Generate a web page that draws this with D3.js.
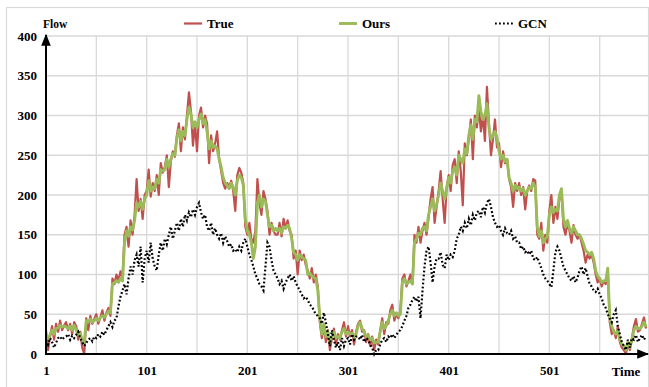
<!DOCTYPE html>
<html>
<head>
<meta charset="utf-8">
<script src="https://cdn.jsdelivr.net/npm/d3@7"></script>
<style>
  body { margin: 0; background: #fff; }
  svg text { font-family: "Liberation Serif", "Times New Roman", serif; font-weight: bold; fill: #000; }
</style>
</head>
<body>
<svg id="chart" width="649" height="387"></svg>
<script>
// Traffic flow, one sample every two time steps
const step = 2;

const trueFlow = [
  30,5,22,35,18, 38,28,42,30,36, 40,30,38,25,40, 35,18,28,8,0,
  45,30,48,38,44, 50,38,46,55,42, 52,58,48,95,88, 100,92,104,96,150,
  160,135,168,150,175, 220,180,195,170,200, 205,232,198,215,205, 225,200,240,228,235,
  250,210,242,255,248, 275,290,255,285,270, 300,329,305,262,290, 255,300,310,285,300,
  290,240,275,255,265, 280,245,230,215,208, 215,210,218,205,180, 225,234,228,215,160,
  150,165,145,140,155, 220,190,175,205,195, 180,150,165,155,150, 150,165,148,170,158,
  168,155,150,120,130, 100,130,118,125,112, 105,95,108,90,100, 85,40,20,35,15,
  30,5,20,32,12, 25,18,30,40,22, 35,22,30,12,28, 38,42,28,30,15,
  25,10,22,5,18, 12,30,45,25,40, 38,55,62,42,50, 45,55,95,100,85,
  92,100,88,150,140, 160,140,155,165,150, 172,195,210,165,185, 205,230,195,165,210,
  225,205,238,245,215, 255,230,187,265,250, 270,295,245,300,285, 310,280,300,268,336,
  290,250,270,295,260, 265,235,255,240,245, 220,210,185,215,205, 215,200,210,182,205,
  212,205,220,218,150, 145,165,130,150,140, 180,200,165,185,170, 195,205,160,150,165,
  155,140,162,150,145, 150,140,130,115,125, 120,125,115,100,90, 95,85,92,88,105,
  40,25,30,20,35, 15,8,5,0,12, 5,20,35,44,28, 30,38,46,32
];

const oursFlow = [
  22,18,24,30,25, 32,33,36,34,35, 34,32,35,30,36, 30,24,26,18,14,
  42,40,44,40,42, 45,42,46,48,46, 50,54,52,88,90, 92,90,95,92,140,
  155,148,160,156,168, 190,185,192,182,195, 200,218,205,210,208, 220,215,232,230,232,
  245,235,245,252,250, 272,282,268,280,275, 295,310,302,285,292, 285,295,302,290,295,
  280,258,268,260,262, 258,245,235,222,215, 212,208,215,210,200, 218,225,222,212,170,
  155,150,140,120,135, 190,200,185,195,192, 175,160,162,155,158, 155,158,152,160,158,
  162,158,145,128,125, 118,125,122,120,118, 100,102,98,96,95, 80,45,25,38,22,
  28,15,22,28,20, 22,20,28,32,25, 28,25,26,20,25, 35,40,32,28,22,
  24,18,20,14,15, 15,28,40,32,36, 42,50,55,48,52, 48,50,90,95,88,
  90,92,88,140,145, 152,150,158,160,155, 175,185,195,180,188, 200,215,205,195,208,
  222,215,230,235,225, 250,245,240,258,252, 275,288,270,295,292, 325,305,295,300,315,
  285,270,275,280,272, 255,245,250,242,245, 222,215,205,212,208, 210,205,208,200,205,
  210,208,215,210,160, 148,155,140,145,148, 175,185,178,182,180, 200,208,170,160,168,
  158,152,160,155,150, 150,145,138,130,128, 125,128,120,105,98, 95,90,92,92,108,
  45,35,28,25,30, 18,12,10,5,15, 8,18,30,35,32, 32,35,40,34
];

const gcnFlow = [
  18,12,20,15,8, 14,20,22,18,21, 22,25,18,23,20, 24,28,20,15,10,
  14,18,20,16,22, 20,25,22,28,24, 30,35,40,34,42, 45,60,72,80,88,
  75,95,110,100,118, 125,110,135,90,120, 130,115,140,120,110, 105,125,140,130,145,
  138,150,160,145,155, 165,155,170,160,175, 168,178,172,182,175, 185,190,178,170,175,
  160,155,165,150,158, 150,145,152,140,148, 142,135,138,130,132, 128,135,130,140,145,
  135,125,118,110,100, 95,88,85,80,110, 140,135,118,105,100, 95,88,92,82,90,
  95,100,92,98,90, 85,80,75,70,72, 68,62,60,55,50, 48,45,38,52,40,
  25,10,30,18,8, 15,5,20,10,18, 20,12,25,18,22, 22,18,24,15,20,
  18,12,8,0,5, 5,12,18,20,15, 22,20,25,20,24, 28,30,35,42,48,
  58,62,68,72,66, 72,45,80,110,130, 135,115,90,110,120, 120,128,112,108,125,
  118,125,122,130,145, 150,160,155,165,158, 170,162,175,168,178, 180,172,185,178,190,
  195,185,172,165,160, 162,155,150,158,152, 150,155,145,148,140, 140,132,135,128,130,
  125,130,120,118,122, 115,108,100,95,92, 88,84,105,128,135, 130,120,110,105,100,
  95,92,98,90,96, 105,110,100,108,98, 88,85,80,78,82, 75,70,62,58,50,
  45,40,50,55,35, 25,15,10,5,18, 8,20,18,24,15, 20,24,18,22
];

const yTicks = [0, 50, 100, 150, 200, 250, 300, 350, 400];
const xTicks = [1, 101, 201, 301, 401, 501];
const xGrid = [1, 51, 101, 151, 201, 251, 301, 351, 401, 451, 501, 551];

const seriesNames = ["True", "Ours", "GCN"];
const seriesColors = ["#c0504d", "#9bbb59", "#000000"];

const timeIndex = trueFlow.map((_, k) => 1 + step * k);

const svg = d3.select("#chart");
const plotL = 46, plotR = 646, plotT = 36, plotB = 354;

const x = d3.scaleLinear().domain([1, 597]).range([plotL, plotR]);
const y = d3.scaleLinear().domain([0, 400]).range([plotB, plotT]);

// outer frame
svg.append("rect")
  .attr("x", 6.5).attr("y", 7.5).attr("width", 642).attr("height", 390)
  .attr("fill", "none").attr("stroke", "#d9d9d9").attr("stroke-width", 1.2);

// grid
const grid = svg.append("g").attr("stroke", "#d9d9d9").attr("stroke-width", 1.3);
grid.selectAll("line.h").data(yTicks).join("line").attr("class", "h")
  .attr("x1", plotL).attr("x2", 648).attr("y1", d => y(d)).attr("y2", d => y(d));
grid.selectAll("line.v").data(xGrid).join("line").attr("class", "v")
  .attr("x1", d => x(d)).attr("x2", d => x(d)).attr("y1", plotT).attr("y2", plotB);

// series
const line = d3.line().x((d, k) => x(timeIndex[k])).y(d => y(d));

svg.append("path").datum(trueFlow).attr("d", line)
  .attr("fill", "none").attr("stroke", seriesColors[0]).attr("stroke-width", 2.2)
  .attr("stroke-linejoin", "round");
svg.append("path").datum(oursFlow).attr("d", line)
  .attr("fill", "none").attr("stroke", seriesColors[1]).attr("stroke-width", 2.9)
  .attr("stroke-linejoin", "round");
svg.append("path").datum(gcnFlow).attr("d", line)
  .attr("fill", "none").attr("stroke", seriesColors[2]).attr("stroke-width", 2.2)
  .attr("stroke-dasharray", "1.8,2.2");

// arrowheads
const defs = svg.append("defs");
defs.append("marker").attr("id", "arrow")
  .attr("viewBox", "0 0 10 10").attr("refX", 9).attr("refY", 5)
  .attr("markerWidth", 6).attr("markerHeight", 6).attr("orient", "auto")
  .append("path").attr("d", "M0,1 L10,5 L0,9 Z").attr("fill", "#000");

// axes
const yAxis = svg.append("g").attr("transform", `translate(${plotL},0)`)
  .call(d3.axisLeft(y).tickValues(yTicks).tickSize(0).tickPadding(9));
yAxis.select(".domain").remove();
yAxis.selectAll("text").style("font-size", "13px").style("font-family", null);

const xAxis = svg.append("g").attr("transform", `translate(0,${plotB})`)
  .call(d3.axisBottom(x).tickValues(xTicks).tickFormat(d3.format("d")).tickSize(0).tickPadding(12));
xAxis.select(".domain").remove();
xAxis.selectAll("text").style("font-size", "13px").style("font-family", null);

svg.append("line").attr("x1", plotL).attr("x2", plotL).attr("y1", plotB + 1).attr("y2", plotT - 1)
  .attr("stroke", "#000").attr("stroke-width", 2).attr("marker-end", "url(#arrow)");
svg.append("line").attr("x1", plotL - 1).attr("x2", 648).attr("y1", plotB).attr("y2", plotB)
  .attr("stroke", "#000").attr("stroke-width", 2).attr("marker-end", "url(#arrow)");

svg.append("text").attr("x", 43).attr("y", 28).style("font-size", "11.5px").text("Flow");
svg.append("text").attr("x", 626).attr("y", 376).attr("text-anchor", "middle")
  .style("font-size", "13px").text("Time");

// legend
const legendX = [184, 339, 495];
const legend = svg.append("g");
seriesNames.forEach((name, i) => {
  const g = legend.append("g").attr("transform", `translate(${legendX[i]},23.5)`);
  const l = g.append("line").attr("x1", 0).attr("x2", 18).attr("y1", 0).attr("y2", 0)
    .attr("stroke", seriesColors[i]).attr("stroke-width", i === 1 ? 2.9 : 2.2);
  if (i === 2) l.attr("stroke-dasharray", "1.8,2.2");
  g.append("text").attr("x", 23).attr("y", 4.5).style("font-size", "13px").text(name);
});
</script>
</body>
</html>
